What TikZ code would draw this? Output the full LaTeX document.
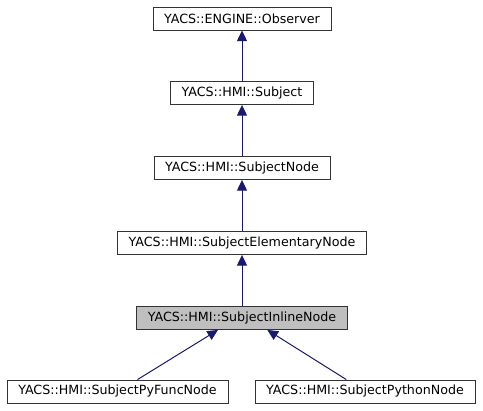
\documentclass[tikz,border=0pt]{standalone}
\usepackage{fontspec}
\setmainfont{DejaVu Sans}
\usetikzlibrary{arrows.meta}
\definecolor{midnight}{HTML}{191970}

\begin{document}
\begin{tikzpicture}[x=0.75pt,y=-0.75pt]
\tikzstyle{cls}=[draw=black!80,fill=white,minimum height=17.5pt,inner xsep=8.5pt,inner ysep=0pt,font=\fontsize{9.5}{11}\selectfont]
\tikzstyle{inh}=[draw=midnight,line width=0.75pt,{Triangle[length=8pt,width=7.5pt,fill=midnight]}-]
\useasboundingbox (0,0) rectangle (483,411);
\foreach \name/\point/\txt in {
	observer/{242,18.5}/YACS::ENGINE::Observer,
	subject/{242,93}/YACS::HMI::Subject,
	subjnode/{242,168}/YACS::HMI::SubjectNode,
	elemnode/{242,243}/YACS::HMI::SubjectElementaryNode,
	pyfunc/{117.5,391.5}/YACS::HMI::SubjectPyFuncNode,
	python/{365,391.5}/YACS::HMI::SubjectPythonNode}
	\node[cls] (\name) at (\point) {\txt};
\node[cls,fill=gray!50] (inline) at (242,318) {YACS::HMI::SubjectInlineNode};
\draw[inh] (observer) -- (subject);
\draw[inh] (subject) -- (subjnode);
\draw[inh] (subjnode) -- (elemnode);
\draw[inh] (elemnode) -- (inline);
\draw[inh] ([xshift=-18pt]inline.south) -- ([xshift=15pt]pyfunc.north);
\draw[inh] ([xshift=19pt]inline.south) -- ([xshift=-14pt]python.north);
\end{tikzpicture}
\end{document}
